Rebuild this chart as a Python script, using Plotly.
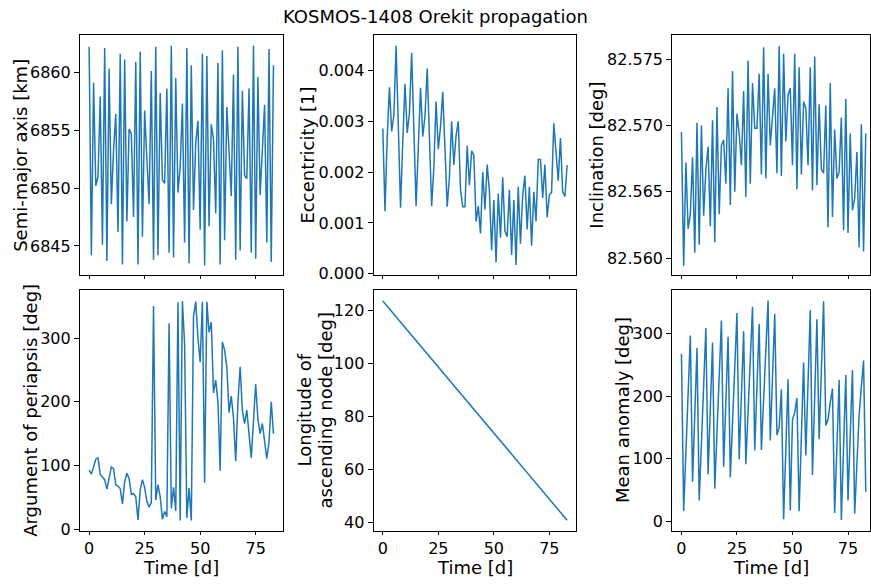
import plotly.graph_objects as go

days = list(range(84))

sma_km = [6862.2, 6844.2, 6859.1, 6850.2, 6851.0, 6857.9, 6845.1, 6862.1, 6843.7, 6860.3,
          6848.6, 6853.3, 6856.4, 6846.2, 6861.6, 6843.4, 6861.1, 6847.1, 6855.1, 6854.7,
          6847.5, 6860.9, 6843.4, 6861.8, 6845.8, 6856.7, 6852.5, 6848.6, 6860.1, 6843.8,
          6862.2, 6844.2, 6858.2, 6850.7, 6850.4, 6858.6, 6844.4, 6862.3, 6844.0, 6859.5,
          6849.6, 6851.8, 6857.3, 6845.3, 6862.1, 6843.5, 6860.6, 6848.1, 6853.9, 6855.8,
          6846.4, 6861.6, 6843.3, 6861.4, 6846.7, 6855.5, 6854.2, 6847.8, 6860.8, 6843.4,
          6861.9, 6845.5, 6857.0, 6852.5, 6849.3, 6859.8, 6843.8, 6862.2, 6844.6, 6858.4,
          6851.1, 6850.8, 6858.6, 6844.4, 6862.3, 6843.9, 6859.6, 6849.4, 6853.3, 6857.2,
          6845.3, 6862.0, 6843.6, 6860.6]

ecc = [0.00286, 0.00123, 0.00270, 0.00367, 0.00280, 0.00313, 0.00449, 0.00300, 0.00130, 0.00260,
       0.00374, 0.00277, 0.00316, 0.00435, 0.00290, 0.00133, 0.00250, 0.00366, 0.00270, 0.00310,
       0.00404, 0.00280, 0.00133, 0.00210, 0.00339, 0.00245, 0.00290, 0.00358, 0.00250, 0.00132,
       0.00190, 0.00300, 0.00214, 0.00272, 0.00300, 0.00165, 0.00132, 0.00132, 0.00252, 0.00174,
       0.00242, 0.00233, 0.00103, 0.00133, 0.00079, 0.00200, 0.00126, 0.00215, 0.00163, 0.00046,
       0.00145, 0.00022, 0.00158, 0.00071, 0.00190, 0.00084, 0.00073, 0.00165, 0.00037, 0.00145,
       0.00017, 0.00171, 0.00059, 0.00155, 0.00193, 0.00087, 0.00171, 0.00055, 0.00161, 0.00103,
       0.00225, 0.00225, 0.00149, 0.00215, 0.00111, 0.00155, 0.00160, 0.00296, 0.00240, 0.00183,
       0.00267, 0.00161, 0.00152, 0.00214]

incl_deg = [82.5695, 82.5594, 82.5672, 82.5622, 82.5633, 82.5676, 82.5604, 82.5702, 82.5610, 82.5700,
            82.5632, 82.5667, 82.5684, 82.5624, 82.5704, 82.5612, 82.5714, 82.5633, 82.5685, 82.5689,
            82.5656, 82.5728, 82.5640, 82.5741, 82.5650, 82.5709, 82.5694, 82.5670, 82.5726, 82.5646,
            82.5749, 82.5656, 82.5732, 82.5698, 82.5698, 82.5739, 82.5663, 82.5759, 82.5660, 82.5739,
            82.5685, 82.5704, 82.5728, 82.5664, 82.5760, 82.5662, 82.5754, 82.5688, 82.5723, 82.5728,
            82.5670, 82.5754, 82.5652, 82.5744, 82.5663, 82.5718, 82.5713, 82.5670, 82.5744, 82.5651,
            82.5752, 82.5655, 82.5716, 82.5667, 82.5664, 82.5715, 82.5623, 82.5732, 82.5631, 82.5697,
            82.5660, 82.5665, 82.5706, 82.5621, 82.5720, 82.5619, 82.5694, 82.5636, 82.5645, 82.5680,
            82.5608, 82.5701, 82.5605, 82.5694]

argp_deg = [92.8, 86.6, 98, 110, 112, 86.6, 82, 78, 63, 83,
            98, 95, 70, 68, 64, 40, 74, 88, 80, 55,
            56, 51, 15, 62, 78, 66, 44, 35, 42, 350,
            46, 70, 51, 16, 28, 20, 323, 33, 66, 29,
            356, 14, 358, 290, 18, 65, 14, 334, 357, 300,
            262, 357, 73, 357, 309, 325, 214, 234, 200, 92,
            294, 281, 255, 183, 209, 175, 107, 200, 255, 186,
            166, 187, 147, 112, 170, 228, 173, 150, 166, 139,
            111, 137, 200, 150]

raan_deg = [123.7, 122.7, 121.7, 120.7, 119.7, 118.7, 117.7, 116.7, 115.7, 114.7,
            113.7, 112.7, 111.7, 110.7, 109.7, 108.7, 107.7, 106.7, 105.7, 104.7,
            103.7, 102.7, 101.7, 100.7, 99.7, 98.7, 97.7, 96.7, 95.7, 94.7,
            93.7, 92.7, 91.7, 90.7, 89.7, 88.7, 87.7, 86.7, 85.7, 84.7,
            83.7, 82.7, 81.7, 80.7, 79.7, 78.7, 77.7, 76.7, 75.7, 74.7,
            73.7, 72.7, 71.7, 70.7, 69.7, 68.7, 67.7, 66.7, 65.7, 64.7,
            63.7, 62.7, 61.7, 60.7, 59.7, 58.7, 57.7, 56.7, 55.7, 54.7,
            53.7, 52.7, 51.7, 50.7, 49.7, 48.7, 47.7, 46.7, 45.7, 44.7,
            43.7, 42.7, 41.7, 40.7]

mean_anom_deg = [268, 16, 110, 205, 297, 63, 170, 277, 33, 125,
                 218, 309, 75, 180, 286, 52, 142, 232, 321, 87,
                 190, 295, 70, 158, 245, 333, 99, 200, 304, 91,
                 175, 260, 343, 113, 215, 316, 114, 195, 275, 353,
                 129, 230, 332, 138, 150, 211, 3, 115, 227, 17,
                 163, 174, 197, 16, 135, 254, 105, 220, 338, 74,
                 200, 323, 131, 240, 352, 153, 163, 190, 212, 13,
                 120, 226, 2, 130, 234, 33, 140, 242, 12, 100,
                 170, 215, 257, 47]

x_ticks = [0, 25, 50, 75]

W, H = 871, 587
col_px = [(80, 283), (374, 577), (673, 876)]
row_px = [(35, 279), (294, 538)]

panels = [
    dict(y=sma_km, row=0, col=0, yr=[6842.47, 6863.26], yt=[6845, 6850, 6855, 6860]),
    dict(y=ecc, row=0, col=1, yr=[-0.00003, 0.00471], yt=[0.000, 0.001, 0.002, 0.003, 0.004],
         ytext=["0.000", "0.001", "0.002", "0.003", "0.004"]),
    dict(y=incl_deg, row=0, col=2, yr=[82.55871, 82.57686], yt=[82.560, 82.565, 82.570, 82.575],
         ytext=["82.560", "82.565", "82.570", "82.575"]),
    dict(y=argp_deg, row=1, col=0, yr=[-2.0, 375.3], yt=[0, 100, 200, 300]),
    dict(y=raan_deg, row=1, col=1, yr=[36.75, 127.84], yt=[40, 60, 80, 100, 120]),
    dict(y=mean_anom_deg, row=1, col=2, yr=[-15.3, 370.0], yt=[0, 100, 200, 300]),
]

fig = go.Figure()
tick_font = dict(family="DejaVu Sans", size=16, color="black")
layout = {}
px_per_day = 203 / 91.3
for i, p in enumerate(panels):
    n = i + 1
    xa = "xaxis" if n == 1 else f"xaxis{n}"
    ya = "yaxis" if n == 1 else f"yaxis{n}"
    x0, x1 = col_px[p["col"]]
    y0, y1 = row_px[p["row"]]
    x1c = min(x1, W)
    xr = [-4.15, -4.15 + (x1c - x0) / px_per_day]
    fig.add_trace(go.Scatter(x=days, y=p["y"], mode="lines",
                             line=dict(color="#1f77b4", width=1.5),
                             xaxis=f"x{n}" if n > 1 else "x",
                             yaxis=f"y{n}" if n > 1 else "y",
                             showlegend=False, hoverinfo="skip"))
    layout[xa] = dict(domain=[x0 / W, x1c / W], range=xr, anchor=f"y{n}" if n > 1 else "y",
                      tickvals=x_ticks, ticks="outside", ticklen=3, tickwidth=1, tickcolor="black",
                      showticklabels=(p["row"] == 1), tickfont=tick_font,
                      showline=True, linecolor="black", linewidth=1, mirror=True,
                      showgrid=False, zeroline=False)
    yd = dict(domain=[1 - y1 / H, 1 - y0 / H], range=p["yr"], anchor=f"x{n}" if n > 1 else "x",
              tickvals=p["yt"], ticks="outside", ticklen=5, tickwidth=1, tickcolor="black",
              tickfont=tick_font, showline=True, linecolor="black", linewidth=1, mirror=True,
              showgrid=False, zeroline=False)
    if "ytext" in p:
        yd["ticktext"] = p["ytext"]
    layout[ya] = yd

fig.update_layout(**layout)

lab_font = dict(family="DejaVu Sans", size=18, color="black")
def ann(text, x, y, angle=0, yanchor="middle"):
    fig.add_annotation(text=text, x=x / W, y=1 - y / H, xref="paper", yref="paper",
                       showarrow=False, textangle=angle, font=lab_font,
                       xanchor="center", yanchor=yanchor)

ann("KOSMOS-1408 Orekit propagation", 435.5, 17)
ann("Semi-major axis [km]", 21, 157, -90)
ann("Eccentricity [1]", 308, 157, -90)
ann("Inclination [deg]", 597.5, 157, -90)
ann("Argument of periapsis [deg]", 30.5, 416, -90)
ann("Longitude of", 304.5, 416, -90)
ann("ascending node [deg]", 325.5, 416, -90)
ann("Mean anomaly [deg]", 623.5, 416, -90)
for cx in (181.5, 475.5, 772):
    ann("Time [d]", cx, 588.5, yanchor="bottom")

fig.update_layout(width=W, height=H, margin=dict(l=0, r=0, t=0, b=0),
                  paper_bgcolor="white", plot_bgcolor="white",
                  font=dict(family="DejaVu Sans", color="black"))
fig.write_html("out.html")
